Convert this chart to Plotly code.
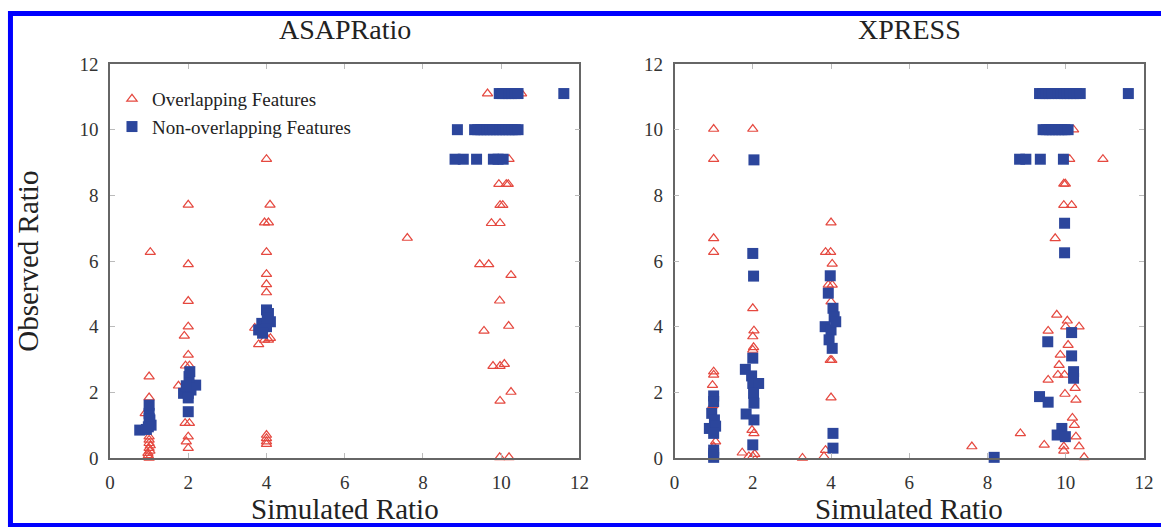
import plotly.graph_objects as go

# ---------------- data ----------------
# ASAPRatio - overlapping features (triangles)
asap_ov_x = [1.03, 1.0, 1.0, 0.9, 1.0, 1.0, 1.0, 0.97, 1.02, 1.0, 1.0, 1.03, 0.98,
             2.0, 2.0, 2.0, 2.0, 1.9, 2.0, 1.93, 2.03, 1.75, 1.92, 2.03, 2.0, 1.95, 2.0, 2.1,
             4.0, 4.09, 3.95, 4.05, 4.0, 4.0, 4.0, 4.0, 3.7, 3.8, 3.95, 4.05, 4.1, 4.0, 4.0, 4.0, 4.0,
             7.6,
             9.65, 10.52, 10.2, 9.94, 10.13, 10.18, 9.97, 10.04, 9.75, 9.97, 9.45, 9.68, 10.25,
             9.96, 10.19, 9.56, 9.79, 9.97, 10.08, 10.25, 9.97, 9.96, 10.2]
asap_ov_y = [6.27, 2.48, 1.84, 1.36, 0.65, 0.45, 0.3, 0.15, 0.22, 0.0, 0.55, 0.38, 0.08,
             7.71, 5.9, 4.78, 4.0, 3.72, 3.14, 2.81, 2.81, 2.2, 1.06, 1.06, 0.65, 0.5, 0.3, 2.3,
             9.1, 7.71, 7.17, 7.17, 6.27, 5.6, 5.29, 5.04, 3.96, 3.46, 3.6, 3.6, 3.65, 0.7, 0.6, 0.5, 0.42,
             6.7,
             11.1, 11.1, 9.1, 8.34, 8.34, 8.34, 7.7, 7.7, 7.15, 7.15, 5.9, 5.9, 5.57,
             4.79, 4.02, 3.87, 2.8, 2.8, 2.86, 2.01, 1.74, 0.02, 0.02]

# ASAPRatio - non-overlapping features (squares)
asap_nov_x = [0.76, 0.93, 1.05, 1.0, 1.0, 1.02, 1.0, 0.98,
              2.0, 1.88, 2.07, 2.19, 2.02, 2.04, 2.0, 2.0, 1.95,
              4.0, 4.05, 4.1, 3.88, 3.8, 4.0, 4.02, 3.9,
              9.95, 10.03, 10.11, 10.19, 10.27, 10.35, 10.43, 11.6,
              8.88, 9.32, 9.4, 9.48, 9.56, 9.64, 9.72, 9.8, 9.88, 9.96, 10.04, 10.12, 10.2, 10.28, 10.36, 10.43,
              8.82, 9.03, 9.37, 9.8, 9.92, 10.05]
asap_nov_y = [0.85, 0.87, 1.0, 1.36, 1.61, 1.16, 1.2, 0.95,
              1.97, 1.97, 2.07, 2.22, 2.48, 2.63, 1.83, 1.41, 2.2,
              4.51, 4.4, 4.15, 4.1, 3.9, 4.0, 4.25, 3.8,
              11.1, 11.1, 11.1, 11.1, 11.1, 11.1, 11.1, 11.1,
              10.0, 10.0, 10.0, 10.0, 10.0, 10.0, 10.0, 10.0, 10.0, 10.0, 10.0, 10.0, 10.0, 10.0, 10.0, 10.0,
              9.1, 9.1, 9.1, 9.1, 9.1, 9.1]

# XPRESS - overlapping features (triangles)
xp_ov_x = [1.0, 1.0, 1.0, 1.0, 1.0, 1.0, 0.97, 0.98, 1.05, 1.0,
           2.0, 2.0, 2.03, 2.0, 2.02, 2.0, 2.03, 1.98, 1.73, 1.9, 2.0, 2.05,
           4.0, 3.86, 3.99, 4.03, 3.93, 4.03, 4.0, 3.98, 4.02, 4.0, 3.86, 3.82, 3.27,
           7.6, 8.84,
           9.72, 10.2, 9.95, 10.1, 10.95, 9.95, 9.99, 9.95, 10.15, 9.73,
           9.77, 10.04, 10.34, 10.0, 9.55, 10.06, 9.86, 9.83, 9.8, 9.97, 9.55, 10.24, 9.98,
           10.26, 10.17, 10.22, 10.26, 9.45, 9.95, 9.95, 10.34, 10.47]
xp_ov_y = [10.02, 9.1, 6.69, 6.27, 2.63, 2.53, 2.22, 1.6, 0.5, 0.35,
           10.02, 4.56, 3.88, 3.7, 3.37, 3.29, 0.75, 0.85, 0.16, 0.05, 0.05, 0.12,
           7.17, 6.27, 6.27, 5.91, 5.27, 5.27, 4.76, 2.98, 2.98, 1.84, 0.24, 0.05, 0.0,
           0.35, 0.75,
           11.1, 10.0, 9.1, 9.1, 9.1, 8.35, 8.35, 7.7, 7.7, 6.69,
           4.36, 4.18, 4.0, 4.0, 3.87, 3.44, 3.14, 2.83, 2.53, 2.53, 2.38, 2.13, 1.95,
           1.77, 1.22, 1.0, 0.65, 0.4, 0.35, 0.22, 0.35, 0.02]

# XPRESS - non-overlapping features (squares)
xp_nov_x = [1.0, 1.0, 0.95, 1.02, 0.89, 1.05, 1.0, 1.0, 1.0, 1.0,
            2.03, 2.0, 2.02, 2.0, 1.81, 1.97, 2.0, 2.15, 2.02, 2.03, 1.83, 2.03, 2.0,
            3.98, 3.93, 4.05, 4.08, 3.85, 4.0, 4.12, 3.95, 4.03, 4.05, 4.05,
            9.33, 9.41, 9.49, 9.57, 9.65, 9.8, 9.88, 9.96, 10.04, 10.12, 10.2, 10.28, 10.37, 11.6,
            9.42, 9.5, 9.58, 9.66, 9.74, 9.82, 9.9, 9.98, 10.06,
            8.82, 8.98, 9.35, 9.94,
            9.97, 9.97, 10.15, 9.54, 10.15, 10.2, 10.2, 9.33, 9.55, 9.9, 9.78, 9.99, 8.17]
xp_nov_y = [1.89, 1.72, 1.36, 1.16, 0.9, 0.97, 0.75, 0.24, 0.1, 0.02,
            9.08, 6.23, 5.54, 3.04, 2.7, 2.5, 2.27, 2.27, 1.97, 1.67, 1.34, 1.16, 0.4,
            5.55, 5.02, 4.56, 4.3, 4.0, 3.9, 4.15, 3.6, 3.34, 0.75, 0.3,
            11.1, 11.1, 11.1, 11.1, 11.1, 11.1, 11.1, 11.1, 11.1, 11.1, 11.1, 11.1, 11.1, 11.1,
            10.0, 10.0, 10.0, 10.0, 10.0, 10.0, 10.0, 10.0, 10.0,
            9.1, 9.1, 9.1, 9.1,
            7.15, 6.25, 3.82, 3.54, 3.11, 2.63, 2.43, 1.87, 1.7, 0.9, 0.7, 0.65, 0.02]

panel_titles = ["ASAPRatio", "XPRESS"]
tick_vals = [0, 2, 4, 6, 8, 10, 12]

# ---------------- styling ----------------
SERIF = "Liberation Serif, Times New Roman, serif"
RED = "#e5483f"
BLUE = "#2c469c"

fig = go.Figure()

def add_panel(ovx, ovy, nvx, nvy, xa, ya, show):
    fig.add_trace(go.Scatter(
        x=ovx, y=ovy, mode="markers", name="Overlapping Features",
        legendgroup="ov", showlegend=show, cliponaxis=False,
        marker=dict(symbol="triangle-up-open", size=9, color=RED, line=dict(width=1.2, color=RED)),
        xaxis=xa, yaxis=ya))
    fig.add_trace(go.Scatter(
        x=nvx, y=nvy, mode="markers", name="Non-overlapping Features",
        legendgroup="nov", showlegend=show, cliponaxis=False,
        marker=dict(symbol="square", size=11, color=BLUE, line=dict(width=0)),
        xaxis=xa, yaxis=ya))

add_panel(asap_ov_x, asap_ov_y, asap_nov_x, asap_nov_y, "x", "y", True)
add_panel(xp_ov_x, xp_ov_y, xp_nov_x, xp_nov_y, "x2", "y2", False)

W, H = 1161, 527
L, R, T, B = 110, 7, 64, 69
pw = W - L - R
ph = H - T - B

def px_to_paper_x(px):
    return (px - L) / pw

def py_to_paper_y(py):
    return (H - B - py) / ph

axis_common = dict(
    range=[0, 12], tickvals=tick_vals, ticks="inside", ticklen=5, tickcolor="#bbbbbb",
    tickwidth=1, showgrid=False, zeroline=False, showline=True, linecolor="#666666",
    linewidth=1.5, mirror="ticks", tickfont=dict(family=SERIF, size=19, color="#333333"),
    ticklabelstandoff=6,
)

fig.update_layout(
    width=W, height=H,
    margin=dict(l=L, r=R, t=T, b=B),
    paper_bgcolor="white", plot_bgcolor="white",
    xaxis=dict(domain=[0, px_to_paper_x(584)], anchor="y", **axis_common),
    yaxis=dict(domain=[0, 1], anchor="x", **axis_common),
    xaxis2=dict(domain=[px_to_paper_x(680), 1], anchor="y2", **axis_common),
    yaxis2=dict(domain=[0, 1], anchor="x2", **axis_common),
    legend=dict(x=px_to_paper_x(112), y=py_to_paper_y(80), xanchor="left", yanchor="top",
                bgcolor="rgba(0,0,0,0)", font=dict(family=SERIF, size=19, color="#222222"),
                tracegroupgap=0, itemwidth=30),
    showlegend=True,
)

ann = []
for title, cx in zip(panel_titles, [347, 917]):
    ann.append(dict(text=title, x=px_to_paper_x(cx), y=py_to_paper_y(40), xref="paper", yref="paper",
                    xanchor="center", yanchor="bottom", showarrow=False,
                    font=dict(family=SERIF, size=28, color="#222222"), yshift=-7))
    ann.append(dict(text="Simulated Ratio", x=px_to_paper_x(cx), y=py_to_paper_y(527), xref="paper",
                    yref="paper", xanchor="center", yanchor="bottom", showarrow=False,
                    font=dict(family=SERIF, size=29, color="#222222")))
ann.append(dict(text="Observed Ratio", x=px_to_paper_x(27), y=py_to_paper_y(261), xref="paper", yref="paper",
                xanchor="center", yanchor="middle", showarrow=False, textangle=-90,
                font=dict(family=SERIF, size=29, color="#222222")))
fig.update_layout(annotations=ann)

# blue frame around the figure (right side beyond the window)
frame = dict(type="rect", xref="paper", yref="paper",
             x0=px_to_paper_x(9.5), x1=px_to_paper_x(1175),
             y0=py_to_paper_y(525.5), y1=py_to_paper_y(13.5),
             line=dict(color="#0000ff", width=5), fillcolor="rgba(0,0,0,0)", layer="above")
fig.update_layout(shapes=[frame])

fig.write_html("out.html", config={"displayModeBar": False},
               post_script="document.body.style.margin='0';document.body.style.overflow='hidden';")
